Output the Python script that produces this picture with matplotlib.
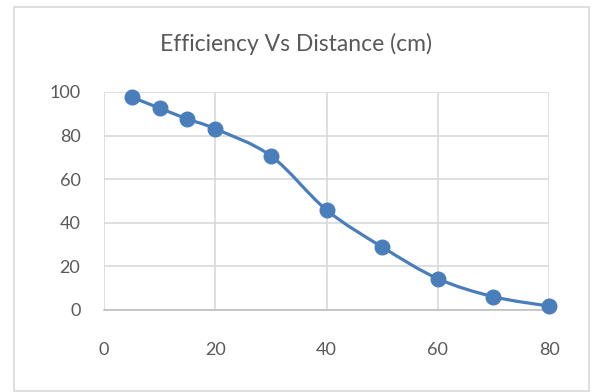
import numpy as np
import matplotlib
matplotlib.use('Agg')
import matplotlib.pyplot as plt
from matplotlib.path import Path
from matplotlib.patches import PathPatch, Rectangle

# Datos
distance = [5, 10, 15, 20, 30, 40, 50, 60, 70, 80]
efficiency = [97.6, 92.6, 87.6, 83.1, 70.7, 45.9, 28.9, 14.4, 6.1, 1.8]
x_ticks = [0, 20, 40, 60, 80]
y_ticks = [0, 20, 40, 60, 80, 100]

line_color = '#4a7ebb'
text_color = '#595959'
grid_color = '#d9d9d9'

plt.rcParams['font.family'] = ['Lato', 'DejaVu Sans']


# Curva suavizada tipo Excel (bezier entre puntos)
def smooth_path(xs, ys):
    pts = np.column_stack([xs, ys]).astype(float)
    n = len(pts)
    verts = [pts[0]]
    codes = [Path.MOVETO]
    for i in range(n - 1):
        p0 = pts[i - 1] if i > 0 else pts[i]
        p1 = pts[i]
        p2 = pts[i + 1]
        p3 = pts[i + 2] if i + 2 < n else pts[i + 1]
        c1 = p1 + (p2 - p0) / 6.0
        c2 = p2 - (p3 - p1) / 6.0
        verts += [c1, c2, p2]
        codes += [Path.CURVE4] * 3
    return Path(verts, codes)


fig = plt.figure(figsize=(5.92, 3.92), dpi=100)
fig.patches.append(Rectangle((14 / 592, 1 / 392), 575 / 592, 384 / 392,
                             transform=fig.transFigure, fill=False,
                             edgecolor='#d9d9d9', linewidth=1.2))

ax = fig.add_axes([104 / 592, 1 - 310 / 392, 445 / 592, 218 / 392])
ax.set_xlim(0, 80)
ax.set_ylim(0, 100)
ax.set_xticks(x_ticks)
ax.set_yticks(y_ticks)
ax.grid(True, color=grid_color, linewidth=1.2)
ax.set_axisbelow(True)
for s in ['top', 'right', 'left']:
    ax.spines[s].set_visible(False)
ax.spines['bottom'].set_color('#bfbfbf')
ax.spines['bottom'].set_linewidth(1.2)
ax.tick_params(length=0, labelsize=13, labelcolor=text_color)
ax.tick_params(axis='x', pad=23)
ax.tick_params(axis='y', pad=17)

ax.add_patch(PathPatch(smooth_path(distance, efficiency), facecolor='none',
                       edgecolor=line_color, linewidth=2.3, clip_on=False,
                       zorder=3))
ax.plot(distance, efficiency, 'o', color=line_color, markersize=10.5,
        clip_on=False, zorder=4)

fig.text(0.5, 1 - 44 / 392, 'Efficiency Vs Distance (cm)', ha='center',
         va='center', fontsize=16.5, color=text_color)

fig.savefig('out.png', dpi=100)
